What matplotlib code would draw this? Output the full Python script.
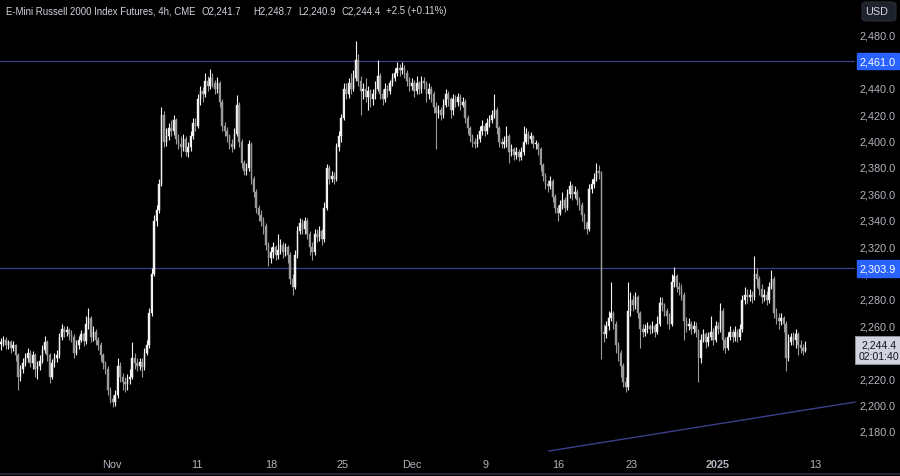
import matplotlib
matplotlib.use("Agg")
import matplotlib.pyplot as plt
from matplotlib.patches import FancyBboxPatch
import numpy as np

plt.rcParams['font.family'] = ['Liberation Sans', 'DejaVu Sans']

title = "E-Mini Russell 2000 Index Futures, 4h, CME"
ohlc_parts = ["O2,241.7", "H2,248.7", "L2,240.9", "C2,244.4", "+2.5 (+0.11%)"]

first_open = 2247.0
closes = [
 2248,2250,2246,2248,2244,2246,2238,2222,2228,2232,2236,2240,2232,2238,2228,2230,2234,2242,2248,2238,
 2222,2232,2236,2238,2252,2258,2256,2257,2254,2252,2240,2246,2250,2254,2249,2262,2266,2252,2256,2250,
 2246,2238,2232,2228,2212,2205,2203,2208,2230,2222,2218,2216,2220,2222,2236,2232,2230,2233,2229,2240,
 2246,2270,2300,2340,2348,2368,2420,2400,2404,2410,2408,2416,2402,2398,2396,2402,2392,2396,2404,2414,
 2412,2432,2438,2436,2446,2442,2448,2444,2440,2444,2430,2412,2408,2404,2398,2396,2406,2428,2400,2384,
 2378,2380,2398,2372,2362,2350,2344,2340,2336,2322,2312,2316,2320,2314,2318,2322,2316,2320,2314,2296,
 2290,2314,2332,2338,2334,2340,2330,2320,2316,2330,2328,2332,2326,2350,2380,2372,2374,2372,2396,2404,
 2418,2440,2436,2444,2440,2448,2462,2446,2438,2440,2434,2438,2432,2436,2440,2450,2436,2432,2440,2438,
 2444,2448,2452,2456,2454,2456,2452,2446,2442,2444,2438,2444,2440,2446,2444,2436,2440,2436,2426,2422,
 2424,2420,2428,2436,2432,2424,2432,2430,2434,2428,2430,2418,2410,2404,2400,2398,2402,2408,2412,2408,
 2414,2416,2420,2424,2410,2400,2398,2400,2404,2392,2394,2390,2392,2388,2392,2400,2406,2402,2404,2398,
 2398,2394,2382,2374,2368,2366,2370,2358,2350,2346,2352,2356,2350,2360,2366,2360,2362,2356,2352,2344,
 2338,2334,2364,2368,2372,2378,2376,2256,2254,2260,2266,2270,2262,2246,2240,2230,2218,2214,2272,2280,
 2276,2282,2270,2258,2256,2258,2260,2258,2260,2256,2262,2278,2276,2272,2268,2262,2294,2298,2290,2288,
 2284,2264,2260,2262,2258,2260,2256,2236,2250,2254,2248,2252,2256,2250,2260,2258,2272,2250,2244,2252,
 2256,2252,2256,2252,2258,2280,2284,2282,2284,2282,2300,2296,2288,2282,2284,2280,2290,2296,2270,2266,
 2264,2266,2262,2236,2248,2252,2250,2254,2246,2244,2241.7,2244.4]

highs = [
 2251,2253,2252,2250,2250,2249,2247,2240,2231,2236,2240,2244,2242,2241,2240,2234,2238,2246,2253,2250,
 2240,2235,2240,2242,2255,2262,2260,2260,2259,2257,2254,2250,2253,2257,2256,2268,2274,2268,2260,2258,
 2252,2248,2240,2234,2230,2214,2208,2212,2236,2233,2225,2222,2224,2228,2248,2240,2236,2236,2236,2244,
 2250,2274,2304,2344,2352,2372,2426,2423,2410,2414,2416,2420,2418,2406,2404,2406,2404,2400,2408,2418,
 2418,2436,2442,2441,2452,2450,2455,2452,2447,2449,2446,2432,2415,2411,2406,2402,2410,2435,2430,2402,
 2386,2384,2401,2400,2374,2364,2352,2348,2343,2338,2324,2320,2324,2322,2330,2326,2324,2323,2322,2316,
 2300,2318,2336,2342,2341,2343,2342,2332,2324,2334,2334,2336,2334,2354,2383,2382,2378,2377,2399,2408,
 2421,2444,2444,2448,2452,2454,2476,2466,2450,2444,2448,2442,2440,2440,2446,2462,2452,2440,2444,2443,
 2447,2452,2456,2460,2459,2460,2458,2454,2449,2448,2447,2450,2446,2450,2449,2446,2444,2442,2438,2430,
 2428,2426,2432,2440,2438,2434,2436,2435,2437,2436,2434,2432,2420,2412,2406,2403,2406,2412,2416,2414,
 2418,2420,2424,2436,2426,2412,2403,2404,2412,2406,2398,2396,2396,2394,2396,2412,2410,2408,2407,2405,
 2401,2400,2396,2384,2376,2371,2374,2372,2360,2352,2356,2362,2358,2364,2370,2368,2366,2364,2358,2354,
 2346,2340,2368,2372,2376,2384,2382,2378,2262,2264,2272,2294,2272,2264,2248,2242,2232,2222,2294,2286,
 2284,2286,2284,2272,2262,2262,2263,2262,2264,2262,2268,2282,2282,2278,2274,2270,2300,2305,2300,2294,
 2292,2286,2267,2266,2264,2264,2263,2258,2254,2258,2256,2256,2268,2259,2264,2263,2278,2274,2252,2256,
 2260,2258,2260,2258,2262,2284,2290,2288,2288,2287,2313,2304,2298,2292,2288,2287,2294,2303,2298,2274,
 2270,2270,2268,2264,2254,2255,2256,2258,2256,2250,2247,2248.7]

lows = [
 2242,2245,2243,2243,2240,2241,2234,2212,2219,2225,2230,2233,2229,2228,2222,2220,2227,2232,2240,2234,
 2217,2220,2229,2233,2236,2250,2252,2253,2250,2248,2236,2238,2243,2248,2245,2247,2258,2248,2249,2246,
 2242,2234,2228,2224,2208,2202,2199,2200,2206,2218,2212,2210,2212,2216,2220,2228,2226,2227,2222,2227,
 2238,2244,2268,2298,2336,2346,2366,2396,2397,2401,2404,2405,2398,2394,2388,2393,2389,2388,2393,2402,
 2408,2410,2428,2430,2434,2438,2440,2441,2436,2437,2426,2408,2404,2400,2394,2392,2394,2404,2396,2380,
 2375,2375,2378,2368,2358,2346,2340,2336,2330,2318,2306,2308,2312,2310,2311,2315,2312,2313,2308,2292,
 2284,2288,2312,2330,2330,2330,2326,2314,2310,2314,2324,2325,2322,2324,2348,2368,2369,2368,2370,2393,
 2400,2416,2432,2433,2436,2438,2446,2442,2420,2432,2430,2424,2426,2428,2432,2438,2432,2428,2430,2434,
 2436,2442,2446,2450,2450,2451,2448,2442,2438,2439,2434,2436,2436,2437,2440,2430,2432,2430,2422,2394,
 2418,2416,2418,2426,2427,2418,2420,2426,2427,2424,2426,2414,2406,2400,2396,2395,2396,2400,2405,2404,
 2406,2411,2414,2418,2406,2396,2395,2395,2396,2384,2389,2386,2387,2385,2386,2390,2398,2398,2399,2395,
 2394,2390,2378,2370,2364,2362,2364,2354,2346,2340,2344,2349,2347,2348,2357,2356,2357,2352,2348,2340,
 2334,2330,2332,2361,2365,2370,2372,2235,2248,2251,2257,2264,2258,2240,2234,2222,2214,2210,2212,2268,
 2272,2273,2266,2244,2252,2253,2255,2254,2255,2252,2254,2260,2272,2268,2262,2258,2260,2290,2286,2284,
 2280,2250,2256,2257,2254,2255,2252,2218,2232,2248,2244,2245,2250,2246,2248,2254,2256,2242,2240,2242,
 2250,2248,2249,2248,2250,2256,2277,2278,2279,2278,2280,2290,2284,2278,2279,2276,2278,2288,2266,2262,
 2258,2261,2256,2226,2234,2246,2246,2244,2238,2240,2238,2240.9]

opens = [first_open] + closes[:-1]

price_ticks = [2180, 2200, 2220, 2260, 2280, 2300, 2320, 2340, 2360,
               2380, 2400, 2420, 2440, 2460, 2480]
date_labels = ["Nov", "11", "18", "25", "Dec", "9", "16", "23", "2025", "13"]
date_positions = [45.7, 80.7, 111.1, 140.7, 169.1, 199.2, 229.2, 259.3, 294.7, 335.0]

level_values = [2461.0, 2303.9]
trend_x = [225.5, 351.4]
trend_y = [2165.6, 2202.7]
last_price = 2244.4
countdown = "02:01:40"

BG = "#000000"
UP = "#f2f2f2"
DOWN = "#9a9a9a"
TXT = "#b2b5be"
LINE = "#3b3f8c"

W, H = 900, 477
fig = plt.figure(figsize=(W / 100, H / 100), dpi=100, facecolor=BG)
ax_right = 855
ax_bottom = 452
ax = fig.add_axes([0, 1 - ax_bottom / H, ax_right / W, ax_bottom / H])
ax.set_facecolor(BG)
for s in ax.spines.values():
    s.set_visible(False)
ax.set_xticks([])
ax.set_yticks([])
ax.set_xlim(-0.41, 351.4)
ax.set_ylim(2165.6, 2508.0)

n = len(closes)
idx = np.arange(n)
o = np.array(opens, float)
c = np.array(closes, float)
hi = np.array(highs, float)
lo = np.array(lows, float)
up = c >= o
cols = np.where(up, UP, DOWN)

ax.vlines(idx, lo, hi, colors=cols, linewidth=0.8, zorder=3)
body_bot = np.minimum(o, c)
body_h = np.maximum(np.abs(c - o), 0.6)
ax.bar(idx, body_h, bottom=body_bot, width=0.62, color=cols, edgecolor=cols,
       linewidth=0.3, zorder=4)

for lv in level_values:
    ax.axhline(lv, color=LINE, linewidth=0.9, zorder=2)
ax.plot(trend_x, trend_y, color=LINE, linewidth=1.0, zorder=2, clip_on=False)

# price axis labels
ytrans = ax.get_yaxis_transform()
lx = 878 / ax_right
for t in price_ticks:
    ax.text(lx, t, f"{t:,.1f}", transform=ytrans, ha="center", va="center",
            fontsize=7.8, color=TXT, clip_on=False, zorder=5)

for lv in level_values:
    ax.text(lx, lv, f"{lv:,.1f}", transform=ytrans, ha="center", va="center",
            fontsize=7.8, color="white", clip_on=False, zorder=7,
            bbox=dict(boxstyle="square,pad=0.3", fc="#2962ff", ec="#2962ff"))

ax.text(879 / ax_right, last_price - 2.5, f"{last_price:,.1f}\n{countdown}", transform=ytrans,
        ha="center", va="center", fontsize=7.6, color="#131722", clip_on=False,
        zorder=7, linespacing=1.1,
        bbox=dict(boxstyle="square,pad=0.35", fc="#d1d4dc", ec="#9598a1", lw=0.6))

# date labels
xtrans = ax.get_xaxis_transform()
for lab, pos in zip(date_labels, date_positions):
    ax.text(pos, -(465 - ax_bottom) / ax_bottom, lab, transform=xtrans,
            ha="center", va="center", fontsize=7.8, color=TXT, clip_on=False,
            fontweight="bold" if lab == "2025" else "normal")

# title line
FS_T = 6.9
fig.text(6 / W, 1 - 11 / H, title, ha="left", va="center", fontsize=FS_T, color="#d1d4dc")
part_x = [201, 253, 298, 341, 386]
for part, px in zip(ohlc_parts, part_x):
    fig.text(px / W, 1 - 11 / H, part, ha="left", va="center", fontsize=FS_T, color="#d1d4dc")

# USD box
box = FancyBboxPatch((862 / W, 1 - 22 / H), 34 / W, 19 / H,
                     boxstyle="round,pad=0,rounding_size=0.006",
                     transform=fig.transFigure, fc="#1e222d", ec="#2a2e39", lw=0.8)
fig.patches.append(box)
fig.text(877 / W, 1 - 12 / H, "USD", ha="center", va="center", fontsize=7.8, color="#d1d4dc")

# bottom border
fig.add_artist(plt.Line2D([0, 1], [1 - 475 / H, 1 - 475 / H], transform=fig.transFigure,
                          color="#2a2e39", lw=1.2))

fig.savefig("out.png", dpi=100, facecolor=BG)
